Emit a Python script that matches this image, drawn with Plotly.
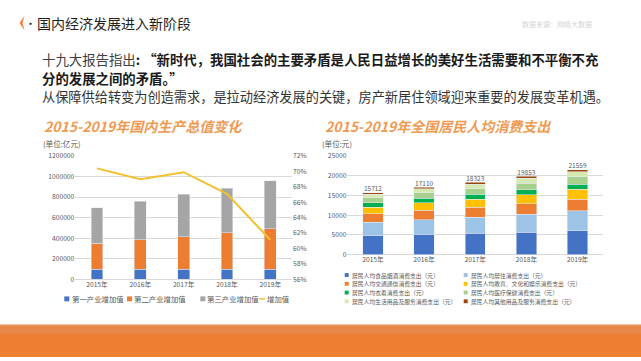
import plotly.graph_objects as go

W, H = 641, 361
FONT = "Noto Sans CJK SC, Noto Sans, sans-serif"

# ---------------- data ----------------
years = ["2015年", "2016年", "2017年", "2018年", "2019年"]

gdp_names = ["第一产业增加值", "第二产业增加值", "第三产业增加值", "增加值"]
gdp_primary = [97000, 97000, 97000, 97000, 97000]
gdp_secondary = [253000, 285000, 317000, 355000, 395000]
gdp_tertiary = [344000, 376000, 416000, 435000, 465000]
gdp_ratio_pct = [70.4, 69.0, 69.9, 67.1, 61.1]

cons_names = [
    "居民人均食品烟酒消费支出（元）",
    "居民人均居住消费支出（元）",
    "居民人均交通通信消费支出（元）",
    "居民人均教育、文化和娱乐消费支出（元）",
    "居民人均衣着消费支出（元）",
    "居民人均医疗保健消费支出（元）",
    "居民人均生活用品及服务消费支出（元）",
    "居民人均其他用品及服务消费支出（元）",
]
cons_food = [4814, 5151, 5374, 5631, 6084]
cons_housing = [3419, 3746, 4107, 4647, 5055]
cons_transport = [2087, 2338, 2499, 2675, 2862]
cons_education = [1723, 1915, 2086, 2226, 2513]
cons_clothing = [1164, 1203, 1238, 1289, 1338]
cons_medical = [1165, 1307, 1451, 1685, 1902]
cons_household = [951, 1044, 1121, 1223, 1281]
cons_other = [389, 406, 447, 477, 524]
cons_total_labels = ["15712", "17110", "18323", "19853", "21559"]

# ---------------- styles ----------------
gdp_colors = ["#4472C4", "#ED7D31", "#A5A5A5", "#F5C02E"]
cons_colors = ["#4472C4", "#9DC3E6", "#ED7D31", "#FFC000",
               "#00B050", "#A9D18E", "#D6E9B0", "#9E480E"]
TICK = dict(family=FONT, size=6.7, color="#595959")
GRID = "#D9D9D9"


def px(x):
    return x / W


def py(y):
    return 1 - y / H


fig = go.Figure()

# left chart: stacked GDP bars + ratio line
for name, vals, col in zip(gdp_names[:3], [gdp_primary, gdp_secondary, gdp_tertiary], gdp_colors[:3]):
    fig.add_trace(go.Bar(x=years, y=vals, name=name, marker_color=col, width=0.27,
                         xaxis="x", yaxis="y", showlegend=False))
fig.add_trace(go.Scatter(x=years, y=gdp_ratio_pct, name=gdp_names[3], mode="lines",
                         line=dict(color=gdp_colors[3], width=2), xaxis="x", yaxis="y2",
                         showlegend=False))

# right chart: stacked consumption bars
cons_series = [cons_food, cons_housing, cons_transport, cons_education,
               cons_clothing, cons_medical, cons_household, cons_other]
for name, vals, col in zip(cons_names, cons_series, cons_colors):
    fig.add_trace(go.Bar(x=years, y=vals, name=name, marker_color=col, width=0.4,
                         xaxis="x2", yaxis="y3", showlegend=False))
cons_totals = [sum(v) for v in zip(*cons_series)]
fig.add_trace(go.Scatter(x=years, y=cons_totals, mode="text", text=cons_total_labels,
                         textposition="top center",
                         textfont=dict(family=FONT, size=6.5, color="#595959"),
                         xaxis="x2", yaxis="y3", showlegend=False, hoverinfo="skip"))

shapes = []
ann = []

# footer band
shapes.append(dict(type="rect", xref="paper", yref="paper", x0=0, x1=1, y0=py(361), y1=py(327),
                   fillcolor="#EE7F33", line=dict(width=0), layer="below"))
shapes.append(dict(type="rect", xref="paper", yref="paper", x0=0, x1=1, y0=py(337), y1=py(327),
                   fillcolor="#E9874A", line=dict(width=0), layer="below"))
shapes.append(dict(type="rect", xref="paper", yref="paper", x0=0, x1=1, y0=py(328.3), y1=py(327),
                   fillcolor="#F6C09A", line=dict(width=0), layer="below"))

# title chevron
cx = [24.5, 19.5, 24.5, 22.5]
cy = [10, 17.5, 25, 17.5]
path = "M {} {} L {} {} L {} {} L {} {} Z".format(*sum([[px(a), py(b)] for a, b in zip(cx, cy)], []))
shapes.append(dict(type="path", xref="paper", yref="paper", path=path,
                   fillcolor="#EE7F33", line=dict(width=0)))


def text(x, y, s, size, color="#262626", anchor="left", **font_kw):
    ann.append(dict(x=px(x), y=py(y), xref="paper", yref="paper", text=s, showarrow=False,
                    xanchor=anchor, yanchor="middle", borderpad=0,
                    font=dict(family=FONT, size=size, color=color, **font_kw)))


text(30.5, 17.5, "•", 9, "#262626", anchor="center", weight="bold")
text(36, 17.5, "国内经济发展进入新阶段", 14, "#1F1F1F")
text(593, 19, "数据来源：网络大数据", 7, "#D4D4D4", anchor="right")

text(41, 54, '<span style="color:#404040">十九大报告指出</span><b>: “新时代，我国社会的主要矛盾是人民日益增长的美好生活需要和不平衡不充</b>', 13.4, "#1A1A1A")
text(41, 74, "<b>分的发展之间的矛盾。”</b>", 13.4, "#1A1A1A")
text(41, 93.5, "从保障供给转变为创造需求，是拉动经济发展的关键，房产新居住领域迎来重要的发展变革机遇。", 13.2, "#333333")

text(43, 123.5, "2015-2019年国内生产总值变化", 14, "#F09A52", weight="bold", style="italic")
text(324, 123.5, "2015-2019年全国居民人均消费支出", 14, "#F09A52", weight="bold", style="italic")
text(42, 141.5, "(单位:亿元)", 7.6, "#595959")
text(321, 141.5, "(单位:元)", 7.6, "#595959")

# left legend
LEG = "#595959"
left_leg = [(64.3, 70.5), (127, 132.5), (200.3, 206), (259, 265.5)]
for i, (sx, tx) in enumerate(left_leg):
    if i < 3:
        shapes.append(dict(type="rect", xref="paper", yref="paper", x0=px(sx), x1=px(sx + 5),
                           y0=py(303.7), y1=py(298.7), fillcolor=gdp_colors[i], line=dict(width=0)))
    else:
        shapes.append(dict(type="line", xref="paper", yref="paper", x0=px(sx), x1=px(sx + 6),
                           y0=py(301.2), y1=py(301.2), line=dict(color=gdp_colors[i], width=1.5)))
    text(tx, 301.2, gdp_names[i], 7.4, LEG)

# right legend (2 columns, 4 rows)
for i, name in enumerate(cons_names):
    row, col = i // 2, i % 2
    sx = 344.7 if col == 0 else 463.7
    y = 276.7 + 9 * row
    shapes.append(dict(type="rect", xref="paper", yref="paper", x0=px(sx), x1=px(sx + 4),
                       y0=py(y + 2), y1=py(y - 2), fillcolor=cons_colors[i], line=dict(width=0)))
    text(sx + 6, y, name, 5.8, LEG)

fig.update_layout(
    width=W, height=H, autosize=False,
    margin=dict(l=0, r=0, t=0, b=0),
    paper_bgcolor="white", plot_bgcolor="rgba(0,0,0,0)",
    barmode="stack",
    font=dict(family=FONT),
    shapes=shapes, annotations=ann,
    xaxis=dict(domain=[px(75.3), px(292)], anchor="y", type="category", showgrid=False,
               ticks="", showline=False, tickfont=TICK, fixedrange=True),
    yaxis=dict(domain=[py(281), py(154.3)], anchor="x", range=[0, 1200000], dtick=200000,
               tickformat="d", showgrid=True, gridcolor=GRID, gridwidth=1, zeroline=True,
               zerolinecolor=GRID, zerolinewidth=1, ticks="", showline=False, tickfont=TICK),
    yaxis2=dict(overlaying="y", side="right", anchor="x", range=[56, 72], dtick=2,
                ticksuffix="%", showgrid=False, zeroline=False, ticks="", showline=False,
                tickfont=TICK),
    xaxis2=dict(domain=[px(347.4), px(603.1)], anchor="y3", type="category", showgrid=False,
                ticks="", showline=False, tickfont=TICK),
    yaxis3=dict(domain=[py(255.7), py(154.3)], anchor="x2", range=[0, 25000], dtick=5000,
                tickformat="d", showgrid=True, gridcolor=GRID, gridwidth=1, zeroline=True,
                zerolinecolor=GRID, zerolinewidth=1, ticks="", showline=False, tickfont=TICK),
)

fig.write_html("out.html", config={"displayModeBar": False},
               post_script="document.body.style.margin='0';document.body.style.overflow='hidden';")
